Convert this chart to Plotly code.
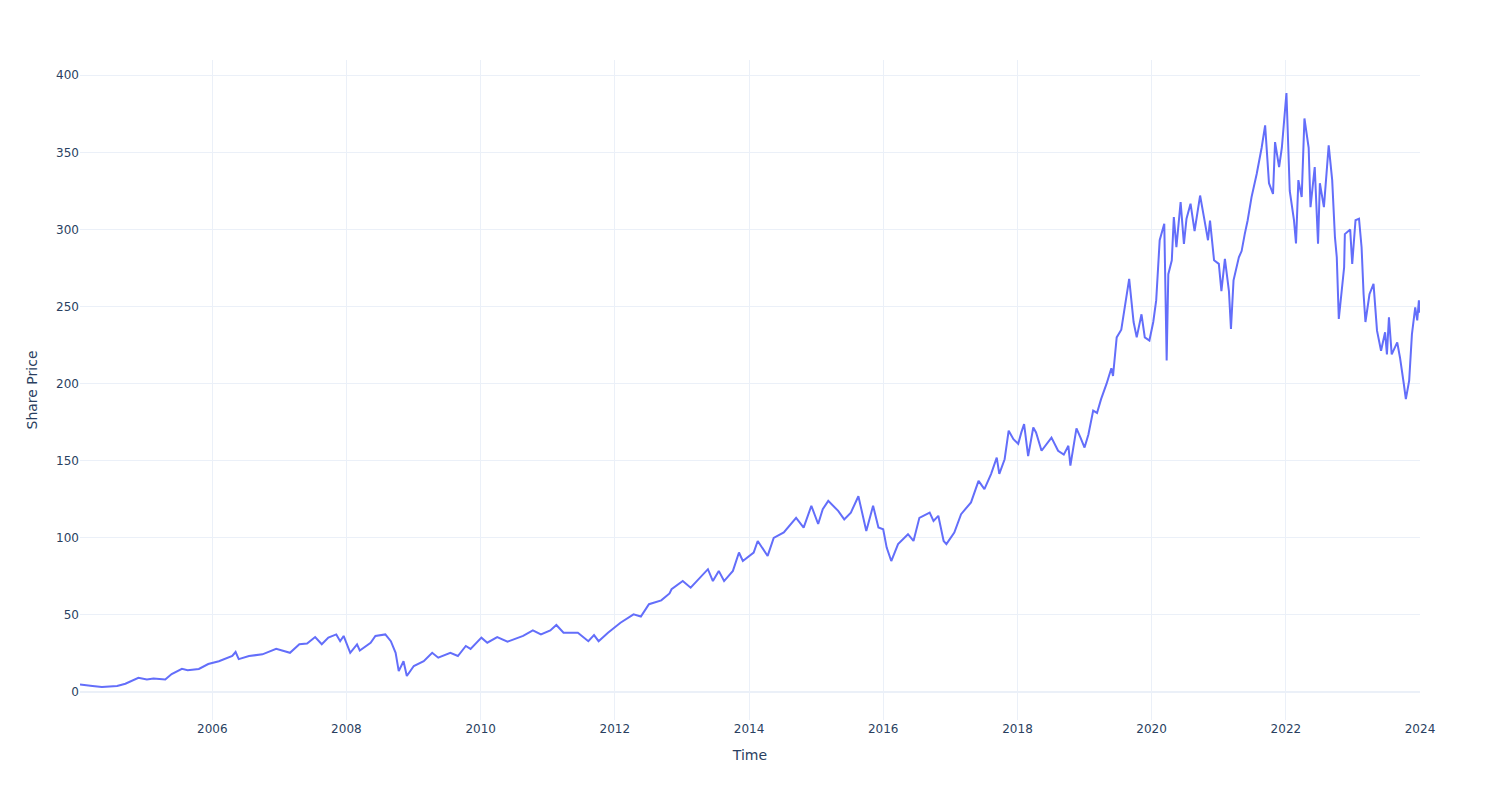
import plotly.graph_objects as go

dates = [
    "2004-01-12", "2004-02-15", "2004-03-20", "2004-05-10", "2004-06-15", "2004-08-01",
    "2004-09-15", "2004-10-20", "2004-11-25", "2005-01-10", "2005-02-15", "2005-04-20",
    "2005-05-25", "2005-07-20", "2005-08-20", "2005-10-20", "2005-12-10", "2006-02-06",
    "2006-03-20", "2006-04-20", "2006-05-08", "2006-05-25", "2006-07-20", "2006-10-01",
    "2006-12-15", "2007-02-28", "2007-04-20", "2007-06-01", "2007-07-15", "2007-08-20",
    "2007-09-25", "2007-11-07", "2007-11-28", "2007-12-17", "2008-01-22", "2008-02-28",
    "2008-03-14", "2008-05-12", "2008-06-07", "2008-07-31", "2008-08-30", "2008-09-25",
    "2008-10-12", "2008-11-07", "2008-11-25", "2009-01-02", "2009-02-25", "2009-04-12",
    "2009-05-15", "2009-07-20", "2009-08-30", "2009-10-12", "2009-11-07", "2010-01-05",
    "2010-02-06", "2010-04-01", "2010-05-27", "2010-08-20", "2010-10-12", "2010-11-25",
    "2011-01-15", "2011-02-17", "2011-03-28", "2011-06-14", "2011-08-10", "2011-09-10",
    "2011-10-05", "2011-11-25", "2012-02-01", "2012-04-12", "2012-05-22", "2012-07-05",
    "2012-09-10", "2012-10-25", "2012-11-05", "2013-01-05", "2013-02-17", "2013-05-22",
    "2013-06-18", "2013-07-20", "2013-08-18", "2013-10-05", "2013-11-07", "2013-11-28",
    "2014-01-26", "2014-02-17", "2014-04-12", "2014-05-15", "2014-07-09", "2014-09-14",
    "2014-10-25", "2014-12-06", "2015-01-12", "2015-02-06", "2015-03-08", "2015-05-01",
    "2015-06-03", "2015-07-09", "2015-08-19", "2015-10-01", "2015-11-07", "2015-12-06",
    "2016-01-01", "2016-01-20", "2016-02-14", "2016-03-22", "2016-05-15", "2016-06-14",
    "2016-07-16", "2016-09-10", "2016-10-01", "2016-10-27", "2016-11-25", "2016-12-10",
    "2017-01-22", "2017-02-28", "2017-04-23", "2017-06-03", "2017-07-05", "2017-08-10",
    "2017-09-10", "2017-09-24", "2017-10-23", "2017-11-14", "2017-12-10", "2018-01-05",
    "2018-01-22", "2018-02-06", "2018-02-28", "2018-03-28", "2018-04-12", "2018-05-12",
    "2018-07-05", "2018-08-10", "2018-09-10", "2018-10-05", "2018-10-16", "2018-11-18",
    "2018-12-10", "2019-01-01", "2019-01-22", "2019-02-17", "2019-03-10", "2019-04-01",
    "2019-05-01", "2019-05-27", "2019-06-05", "2019-06-25", "2019-07-20", "2019-08-19",
    "2019-09-01", "2019-09-25", "2019-10-12", "2019-11-07", "2019-11-25", "2019-12-20",
    "2020-01-10", "2020-01-26", "2020-02-14", "2020-03-10", "2020-03-14", "2020-03-23",
    "2020-04-01", "2020-04-20", "2020-05-01", "2020-05-15", "2020-06-07", "2020-06-25",
    "2020-07-09", "2020-07-31", "2020-08-22", "2020-09-21", "2020-10-12", "2020-11-03",
    "2020-11-14", "2020-12-06", "2021-01-01", "2021-01-15", "2021-02-03", "2021-02-25",
    "2021-03-08", "2021-03-22", "2021-04-20", "2021-05-05", "2021-05-22", "2021-06-07",
    "2021-06-28", "2021-07-26", "2021-08-22", "2021-09-10", "2021-10-01", "2021-10-23",
    "2021-11-03", "2021-11-25", "2021-12-10", "2021-12-27", "2022-01-04", "2022-01-22",
    "2022-02-14", "2022-02-25", "2022-03-10", "2022-03-28", "2022-04-12", "2022-05-05",
    "2022-05-15", "2022-06-07", "2022-06-25", "2022-07-05", "2022-07-27", "2022-08-22",
    "2022-09-10", "2022-09-25", "2022-10-05", "2022-10-16", "2022-11-14", "2022-11-18",
    "2022-12-17", "2022-12-28", "2023-01-15", "2023-02-03", "2023-02-17", "2023-02-28",
    "2023-03-10", "2023-04-01", "2023-04-23", "2023-05-12", "2023-06-03", "2023-06-25",
    "2023-07-05", "2023-07-16", "2023-07-31", "2023-08-30", "2023-09-14", "2023-10-05",
    "2023-10-16", "2023-11-03", "2023-11-18", "2023-12-06", "2023-12-17", "2023-12-26",
    "2023-12-29",
]

prices = [
    5.0, 4.3, 4.0, 3.3, 3.8, 4.0,
    5.4, 7.5, 9.3, 8.2, 8.8, 8.2,
    11.7, 15.1, 14.2, 15.0, 18.2, 20.0,
    22.0, 23.4, 26.0, 21.4, 23.4, 24.5,
    28.0, 25.5, 31.0, 31.5, 35.7, 31.0,
    35.3, 37.4, 33.0, 36.4, 25.5, 31.0,
    27.0, 32.0, 36.4, 37.4, 33.0, 25.5,
    13.6, 20.0, 10.4, 16.9, 20.0, 25.5,
    22.3, 25.5, 23.4, 29.9, 28.0, 35.3,
    32.0, 35.7, 32.7, 36.4, 40.0, 37.4,
    40.0, 43.5, 38.5, 38.5, 33.0, 37.0,
    33.0, 38.5, 45.0, 50.4, 49.0, 57.0,
    59.5, 64.0, 66.7, 72.0, 67.7, 79.7,
    72.0, 78.6, 72.0, 78.6, 90.5, 85.0,
    90.5, 98.0, 88.3, 100.0, 103.5, 113.0,
    106.7, 120.8, 109.0, 118.6, 124.0, 117.5,
    112.0, 116.4, 127.0, 104.5, 120.8, 106.7,
    105.6, 93.7, 85.0, 96.0, 102.4, 98.0,
    113.0, 116.4, 111.0, 114.3, 98.0, 96.0,
    103.5, 115.4, 123.0, 137.0, 131.6, 141.4,
    152.0, 141.5, 151.0, 169.5, 164.0, 161.0,
    168.4, 173.8, 153.0, 171.6, 168.4, 156.5,
    165.0, 156.5, 154.0, 159.7, 146.8, 171.0,
    165.0, 158.6, 167.0, 182.5, 181.0, 190.0,
    200.0, 210.0, 205.0, 230.0, 235.0, 260.0,
    268.0, 240.0, 230.0, 245.0, 230.0, 228.0,
    240.0, 254.0, 293.0, 303.7, 265.0, 215.0,
    271.0, 280.0, 308.0, 288.5, 317.7, 290.7,
    307.0, 316.7, 299.0, 322.0, 308.0, 293.0,
    305.8, 280.0, 277.7, 260.0, 281.0, 260.0,
    235.5, 267.0, 282.0, 286.0, 297.0, 306.0,
    321.0, 336.0, 353.0, 367.5, 330.0, 323.0,
    356.7, 340.5, 353.0, 377.0, 388.5, 325.0,
    306.0, 291.0, 332.0, 321.0, 372.0, 353.0,
    314.5, 340.5, 290.7, 330.0, 314.5, 354.5,
    332.0, 295.0, 282.0, 242.0, 275.5, 297.0,
    300.0, 277.7, 306.0, 307.0, 288.5, 258.0,
    240.0, 258.0, 264.7, 234.4, 221.4, 233.3,
    219.0, 243.0, 219.0, 226.8, 217.0, 199.8,
    190.0, 202.0, 232.0, 249.5, 241.0, 254.0,
    246.0,
]

x_range = ["2004-01-12", "2024-01-01"]

fig = go.Figure()
fig.add_trace(go.Scatter(x=dates, y=prices, mode="lines",
                         line=dict(color="#636efa", width=2)))

fig.update_layout(
    template="plotly_white",
    width=1500, height=800,
    margin=dict(l=80, r=80, t=60, b=80),
    font=dict(family="DejaVu Sans, Verdana, sans-serif"),
    xaxis=dict(title="Time", range=x_range),
    yaxis_title="Share Price",
    showlegend=False,
)

fig.write_html("out.html")
